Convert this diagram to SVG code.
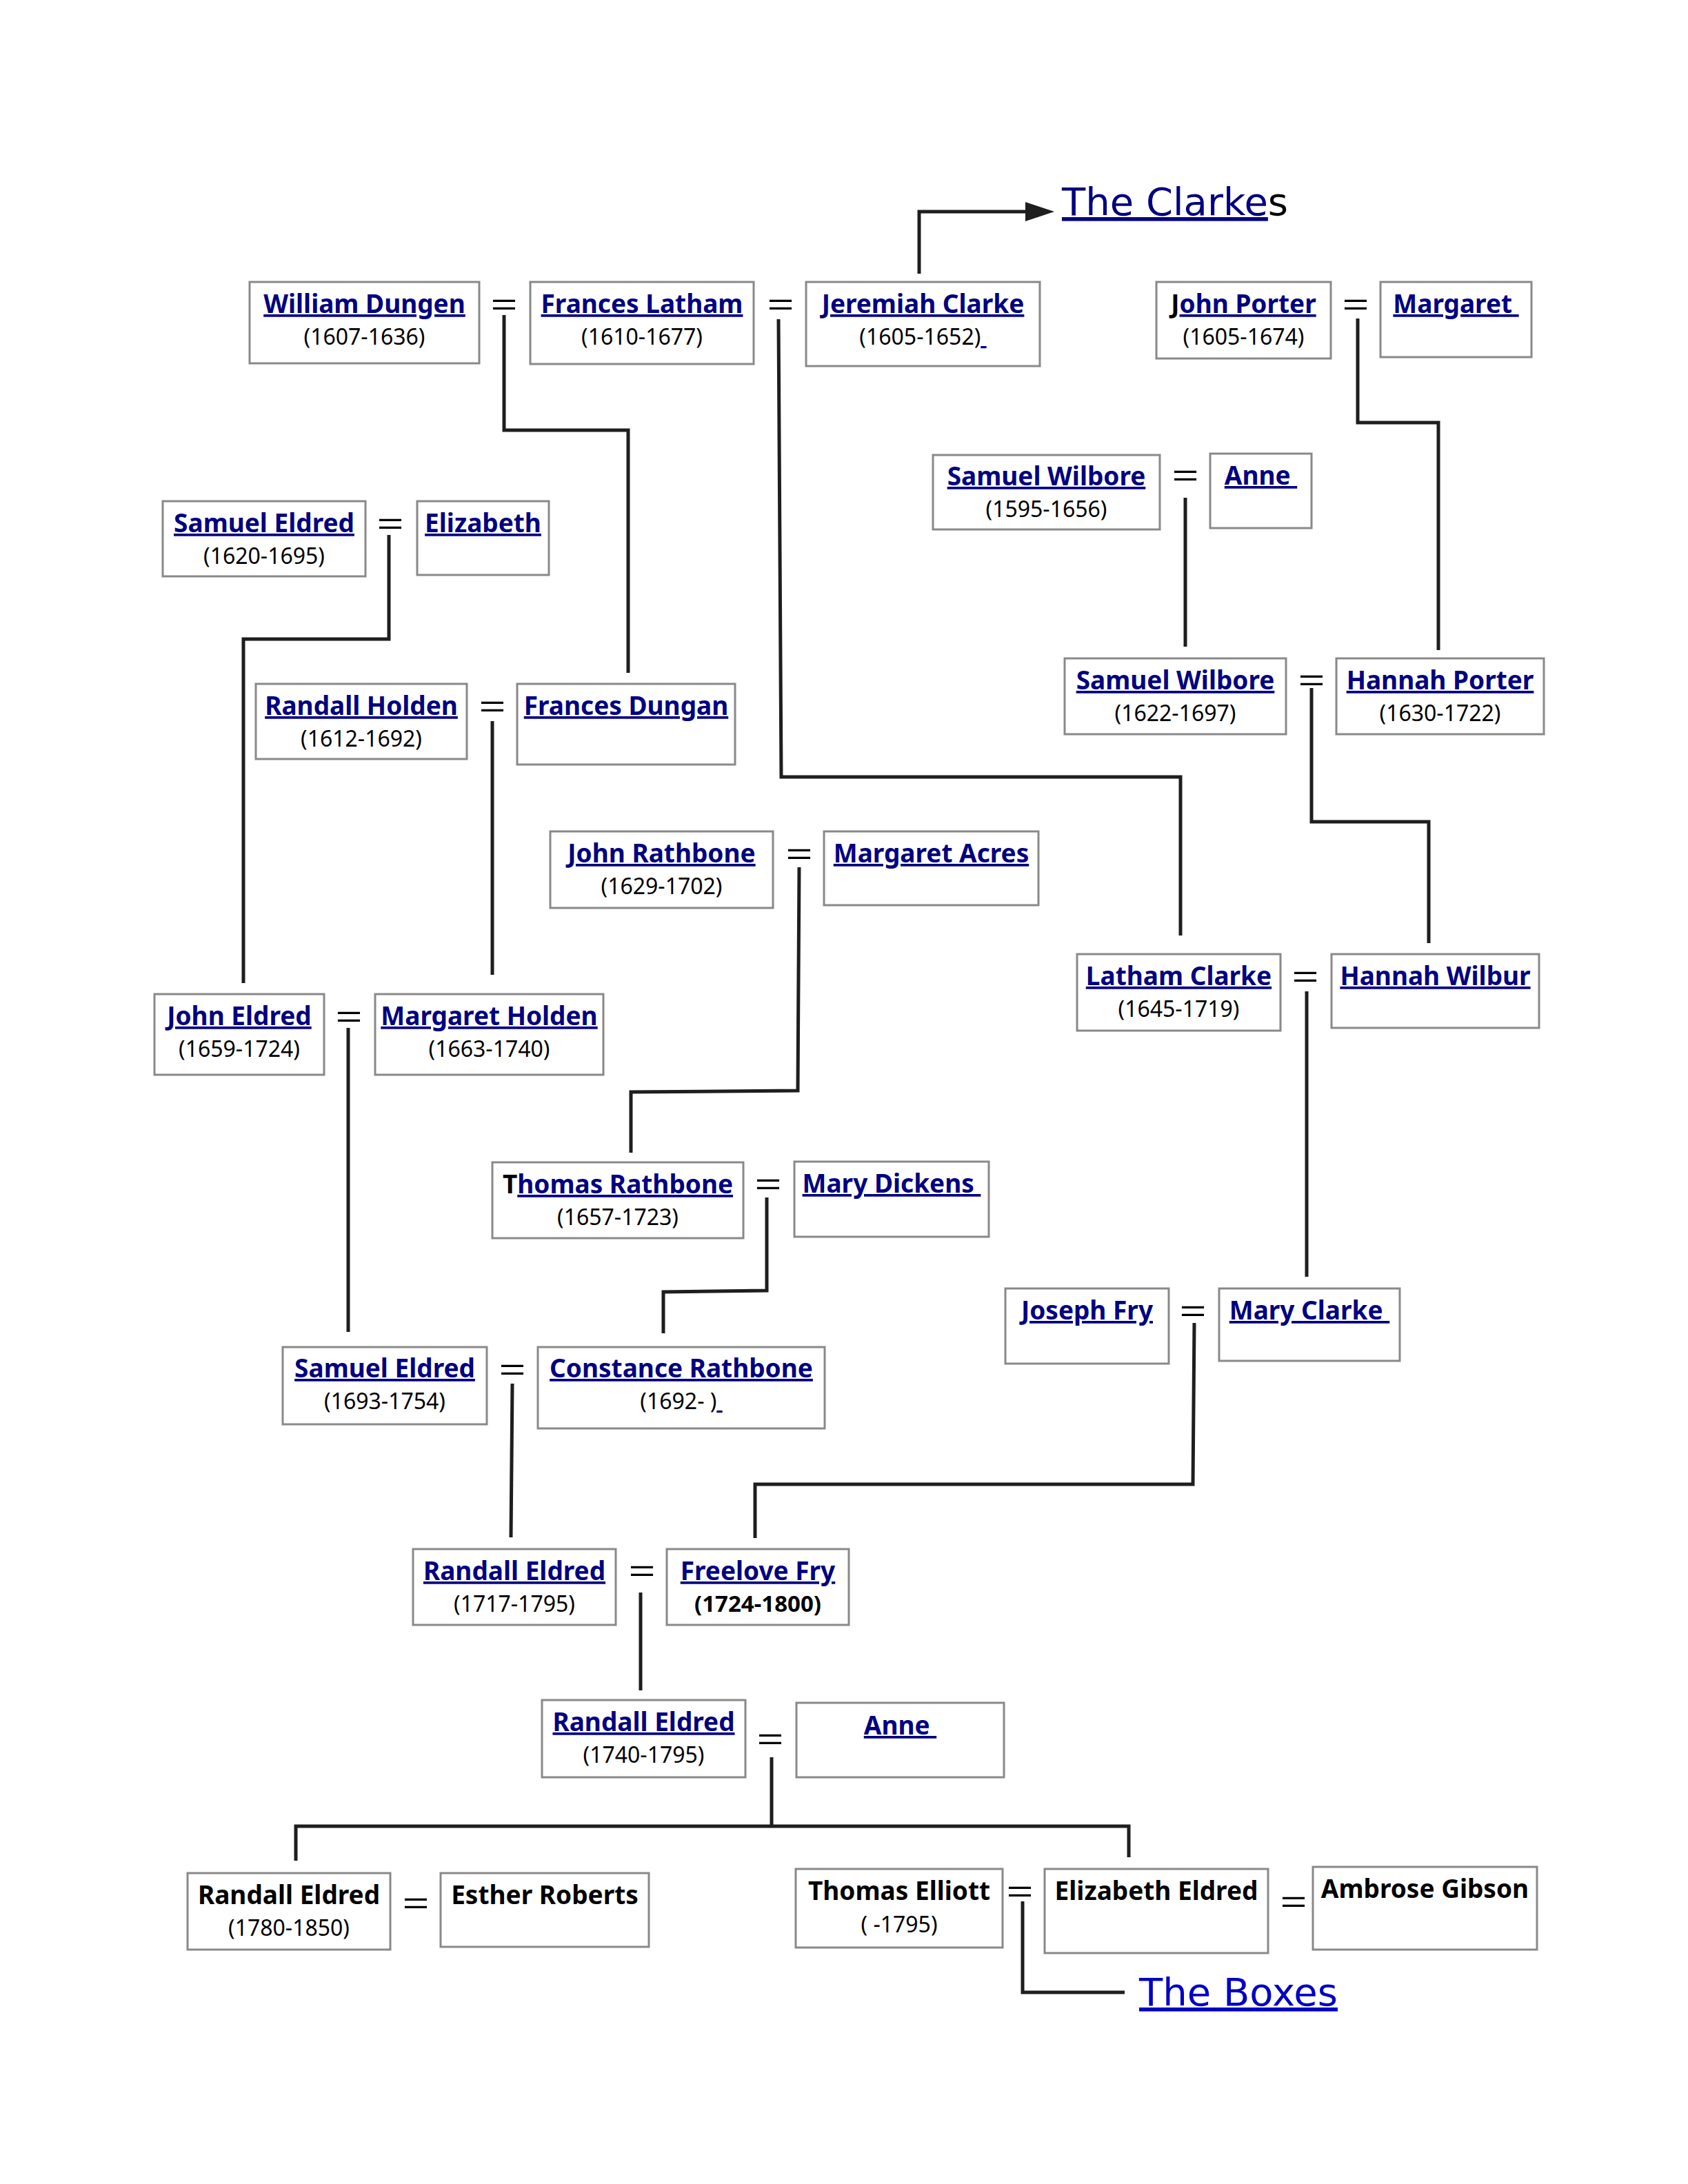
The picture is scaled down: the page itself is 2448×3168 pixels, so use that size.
<svg xmlns="http://www.w3.org/2000/svg" width="2448" height="3168" viewBox="0 0 2448 3168">
<style>
.bg{fill:#fff}
.box{fill:#fff;stroke:#898989;stroke-width:3}
.nm{font-family:"Noto Sans","Open Sans",sans-serif;font-weight:700;font-size:37px;text-anchor:middle;fill:#000}
.lk{fill:#000080;text-decoration:underline}
.dt{font-family:"Noto Sans","Open Sans",sans-serif;font-size:32px;text-anchor:middle;fill:#000}
.db{font-weight:700;font-size:33px}
.eq{font-family:"Liberation Sans",Arial,sans-serif;font-size:44px;text-anchor:middle;fill:#000}
.cn{fill:none;stroke:#1e1e1e;stroke-width:5;stroke-linejoin:miter}
.ext{font-family:"DejaVu Sans",sans-serif;font-size:56px}
</style>
<defs>
<marker id="arr" markerUnits="userSpaceOnUse" viewBox="0 0 42 28" refX="2" refY="14" markerWidth="42" markerHeight="28" orient="auto">
<path d="M0,0 L42,14 L0,28 z" fill="#1e1e1e"/>
</marker>
</defs>
<rect class="bg" x="0" y="0" width="2448" height="3168"/>

<g id="connectors">
<path class="cn" d="M1333,397 V307 H1489" marker-end="url(#arr)"/>
<path class="cn" d="M731,457 V624 H911 V976"/>
<path class="cn" d="M1129,463 L1133,1127 H1712 V1357"/>
<path class="cn" d="M1969,462 V613 H2086 V943"/>
<path class="cn" d="M1719,722 V938"/>
<path class="cn" d="M564,776 V927 H353 V1426"/>
<path class="cn" d="M714,1046 V1414"/>
<path class="cn" d="M1902,998 V1192 H2072 V1368"/>
<path class="cn" d="M1159,1258 L1157,1582 L915,1584 V1672"/>
<path class="cn" d="M1895,1438 V1852"/>
<path class="cn" d="M505,1491 V1932"/>
<path class="cn" d="M1112,1737 V1872 L962,1874 V1934"/>
<path class="cn" d="M1732,1919 L1730,2153 H1095 V2231"/>
<path class="cn" d="M743,2007 L741,2230"/>
<path class="cn" d="M929,2310 V2452"/>
<path class="cn" d="M429,2699 V2649 H1637 V2694 M1119,2549 V2649"/>
<path class="cn" d="M1483,2758 V2890 H1631"/>
</g>

<g id="link-clarkes">
<text class="ext" x="1540" y="312"><tspan fill="#000080" text-decoration="underline">The Clarke</tspan><tspan fill="#000">s</tspan></text>
</g>
<g id="link-boxes">
<text class="ext" x="1652" y="2909" fill="#0000c4" text-decoration="underline">The Boxes</text>
</g>

<g id="marriages">
<text class="eq" transform="translate(731,457) scale(1.5,1)">=</text>
<text class="eq" transform="translate(1132,457) scale(1.5,1)">=</text>
<text class="eq" transform="translate(1966,457) scale(1.5,1)">=</text>
<text class="eq" transform="translate(1719,705) scale(1.5,1)">=</text>
<text class="eq" transform="translate(566,775) scale(1.5,1)">=</text>
<text class="eq" transform="translate(1902,1002) scale(1.5,1)">=</text>
<text class="eq" transform="translate(714,1040) scale(1.5,1)">=</text>
<text class="eq" transform="translate(1159,1254) scale(1.5,1)">=</text>
<text class="eq" transform="translate(1893,1432) scale(1.5,1)">=</text>
<text class="eq" transform="translate(506,1490) scale(1.5,1)">=</text>
<text class="eq" transform="translate(1114,1733) scale(1.5,1)">=</text>
<text class="eq" transform="translate(1730,1917) scale(1.5,1)">=</text>
<text class="eq" transform="translate(743,2002) scale(1.5,1)">=</text>
<text class="eq" transform="translate(931,2294) scale(1.5,1)">=</text>
<text class="eq" transform="translate(1117,2538) scale(1.5,1)">=</text>
<text class="eq" transform="translate(603,2776) scale(1.5,1)">=</text>
<text class="eq" transform="translate(1479,2759) scale(1.5,1)">=</text>
<text class="eq" transform="translate(1876,2774) scale(1.5,1)">=</text>
</g>

<g id="william-dungen">
<rect class="box" x="362" y="409" width="333" height="118"/>
<text class="nm" x="528.5" y="454"><tspan class="lk">William Dungen</tspan></text>
<text class="dt" x="528.5" y="500">(1607-1636)</text>
</g>
<g id="frances-latham">
<rect class="box" x="769" y="409" width="324" height="119"/>
<text class="nm" x="931" y="454"><tspan class="lk">Frances Latham</tspan></text>
<text class="dt" x="931" y="500">(1610-1677)</text>
</g>
<g id="jeremiah-clarke">
<rect class="box" x="1169" y="409" width="339" height="122"/>
<text class="nm" x="1338.5" y="454"><tspan class="lk">Jeremiah Clarke</tspan></text>
<text class="dt" x="1338.5" y="500" xml:space="preserve">(1605-1652)<tspan class="lk"> </tspan></text>
</g>
<g id="john-porter">
<rect class="box" x="1677" y="409" width="253" height="111"/>
<text class="nm" x="1803.5" y="454"><tspan>J</tspan><tspan class="lk">ohn Porter</tspan></text>
<text class="dt" x="1803.5" y="500">(1605-1674)</text>
</g>
<g id="margaret">
<rect class="box" x="2002" y="409" width="219" height="109"/>
<text class="nm" x="2111.5" y="454" xml:space="preserve"><tspan class="lk">Margaret </tspan></text>
</g>
<g id="samuel-wilbore-1595">
<rect class="box" x="1353" y="660" width="329" height="108"/>
<text class="nm" x="1517.5" y="704"><tspan class="lk">Samuel Wilbore</tspan></text>
<text class="dt" x="1517.5" y="750">(1595-1656)</text>
</g>
<g id="anne-1">
<rect class="box" x="1755" y="658" width="147" height="108"/>
<text class="nm" x="1828.5" y="703" xml:space="preserve"><tspan class="lk">Anne </tspan></text>
</g>
<g id="samuel-eldred-1620">
<rect class="box" x="236" y="727" width="294" height="109"/>
<text class="nm" x="383" y="772"><tspan class="lk">Samuel Eldred</tspan></text>
<text class="dt" x="383" y="818">(1620-1695)</text>
</g>
<g id="elizabeth">
<rect class="box" x="605" y="727" width="191" height="107"/>
<text class="nm" x="700.5" y="772"><tspan class="lk">Elizabeth</tspan></text>
</g>
<g id="samuel-wilbore-1622">
<rect class="box" x="1544" y="955" width="321" height="110"/>
<text class="nm" x="1704.5" y="1000"><tspan class="lk">Samuel Wilbore</tspan></text>
<text class="dt" x="1704.5" y="1046">(1622-1697)</text>
</g>
<g id="hannah-porter">
<rect class="box" x="1938" y="955" width="301" height="110"/>
<text class="nm" x="2088.5" y="1000"><tspan class="lk">Hannah Porter</tspan></text>
<text class="dt" x="2088.5" y="1046">(1630-1722)</text>
</g>
<g id="randall-holden">
<rect class="box" x="371" y="992" width="306" height="109"/>
<text class="nm" x="524" y="1037"><tspan class="lk">Randall Holden</tspan></text>
<text class="dt" x="524" y="1083">(1612-1692)</text>
</g>
<g id="frances-dungan">
<rect class="box" x="750" y="992" width="316" height="117"/>
<text class="nm" x="908" y="1037"><tspan class="lk">Frances Dungan</tspan></text>
</g>
<g id="john-rathbone">
<rect class="box" x="798" y="1206" width="323" height="111"/>
<text class="nm" x="959.5" y="1251"><tspan class="lk">John Rathbone</tspan></text>
<text class="dt" x="959.5" y="1297">(1629-1702)</text>
</g>
<g id="margaret-acres">
<rect class="box" x="1195" y="1206" width="311" height="107"/>
<text class="nm" x="1350.5" y="1251"><tspan class="lk">Margaret Acres</tspan></text>
</g>
<g id="latham-clarke">
<rect class="box" x="1562" y="1384" width="295" height="111"/>
<text class="nm" x="1709.5" y="1429"><tspan class="lk">Latham Clarke</tspan></text>
<text class="dt" x="1709.5" y="1475">(1645-1719)</text>
</g>
<g id="hannah-wilbur">
<rect class="box" x="1931" y="1384" width="301" height="107"/>
<text class="nm" x="2081.5" y="1429"><tspan class="lk">Hannah Wilbur</tspan></text>
</g>
<g id="john-eldred">
<rect class="box" x="224" y="1442" width="246" height="117"/>
<text class="nm" x="347" y="1487"><tspan class="lk">John Eldred</tspan></text>
<text class="dt" x="347" y="1533">(1659-1724)</text>
</g>
<g id="margaret-holden">
<rect class="box" x="544" y="1442" width="331" height="117"/>
<text class="nm" x="709.5" y="1487"><tspan class="lk">Margaret Holden</tspan></text>
<text class="dt" x="709.5" y="1533">(1663-1740)</text>
</g>
<g id="thomas-rathbone">
<rect class="box" x="714" y="1686" width="364" height="110"/>
<text class="nm" x="896" y="1731"><tspan>T</tspan><tspan class="lk">homas Rathbone</tspan></text>
<text class="dt" x="896" y="1777">(1657-1723)</text>
</g>
<g id="mary-dickens">
<rect class="box" x="1152" y="1685" width="282" height="109"/>
<text class="nm" x="1293" y="1730" xml:space="preserve"><tspan class="lk">Mary Dickens </tspan></text>
</g>
<g id="joseph-fry">
<rect class="box" x="1458" y="1869" width="237" height="109"/>
<text class="nm" x="1576.5" y="1914"><tspan class="lk">Joseph Fry</tspan></text>
</g>
<g id="mary-clarke">
<rect class="box" x="1768" y="1869" width="262" height="105"/>
<text class="nm" x="1899" y="1914" xml:space="preserve"><tspan class="lk">Mary Clarke </tspan></text>
</g>
<g id="samuel-eldred-1693">
<rect class="box" x="410" y="1954" width="296" height="112"/>
<text class="nm" x="558" y="1998"><tspan class="lk">Samuel Eldred</tspan></text>
<text class="dt" x="558" y="2044">(1693-1754)</text>
</g>
<g id="constance-rathbone">
<rect class="box" x="780" y="1954" width="416" height="118"/>
<text class="nm" x="988" y="1998"><tspan class="lk">Constance Rathbone</tspan></text>
<text class="dt" x="988" y="2044" xml:space="preserve">(1692- )<tspan class="lk"> </tspan></text>
</g>
<g id="randall-eldred-1717">
<rect class="box" x="599" y="2247" width="294" height="110"/>
<text class="nm" x="746" y="2292"><tspan class="lk">Randall Eldred</tspan></text>
<text class="dt" x="746" y="2338">(1717-1795)</text>
</g>
<g id="freelove-fry">
<rect class="box" x="967" y="2247" width="264" height="110"/>
<text class="nm" x="1099" y="2292"><tspan class="lk">Freelove Fry</tspan></text>
<text class="dt db" x="1099" y="2338">(1724-1800)</text>
</g>
<g id="randall-eldred-1740">
<rect class="box" x="786" y="2466" width="295" height="112"/>
<text class="nm" x="933.5" y="2511"><tspan class="lk">Randall Eldred</tspan></text>
<text class="dt" x="933.5" y="2557">(1740-1795)</text>
</g>
<g id="anne-2">
<rect class="box" x="1155" y="2470" width="301" height="108"/>
<text class="nm" x="1305.5" y="2516" xml:space="preserve"><tspan class="lk">Anne </tspan></text>
</g>
<g id="randall-eldred-1780">
<rect class="box" x="272" y="2717" width="294" height="111"/>
<text class="nm" x="419" y="2762">Randall Eldred</text>
<text class="dt" x="419" y="2808">(1780-1850)</text>
</g>
<g id="esther-roberts">
<rect class="box" x="639" y="2717" width="302" height="107"/>
<text class="nm" x="790" y="2762">Esther Roberts</text>
</g>
<g id="thomas-elliott">
<rect class="box" x="1154" y="2711" width="300" height="114"/>
<text class="nm" x="1304" y="2756">Thomas Elliott</text>
<text class="dt" x="1304" y="2803">( -1795)</text>
</g>
<g id="elizabeth-eldred">
<rect class="box" x="1515" y="2711" width="324" height="122"/>
<text class="nm" x="1677" y="2756">Elizabeth Eldred</text>
</g>
<g id="ambrose-gibson">
<rect class="box" x="1904" y="2708" width="325" height="120"/>
<text class="nm" x="2066.5" y="2753">Ambrose Gibson</text>
</g>
</svg>
